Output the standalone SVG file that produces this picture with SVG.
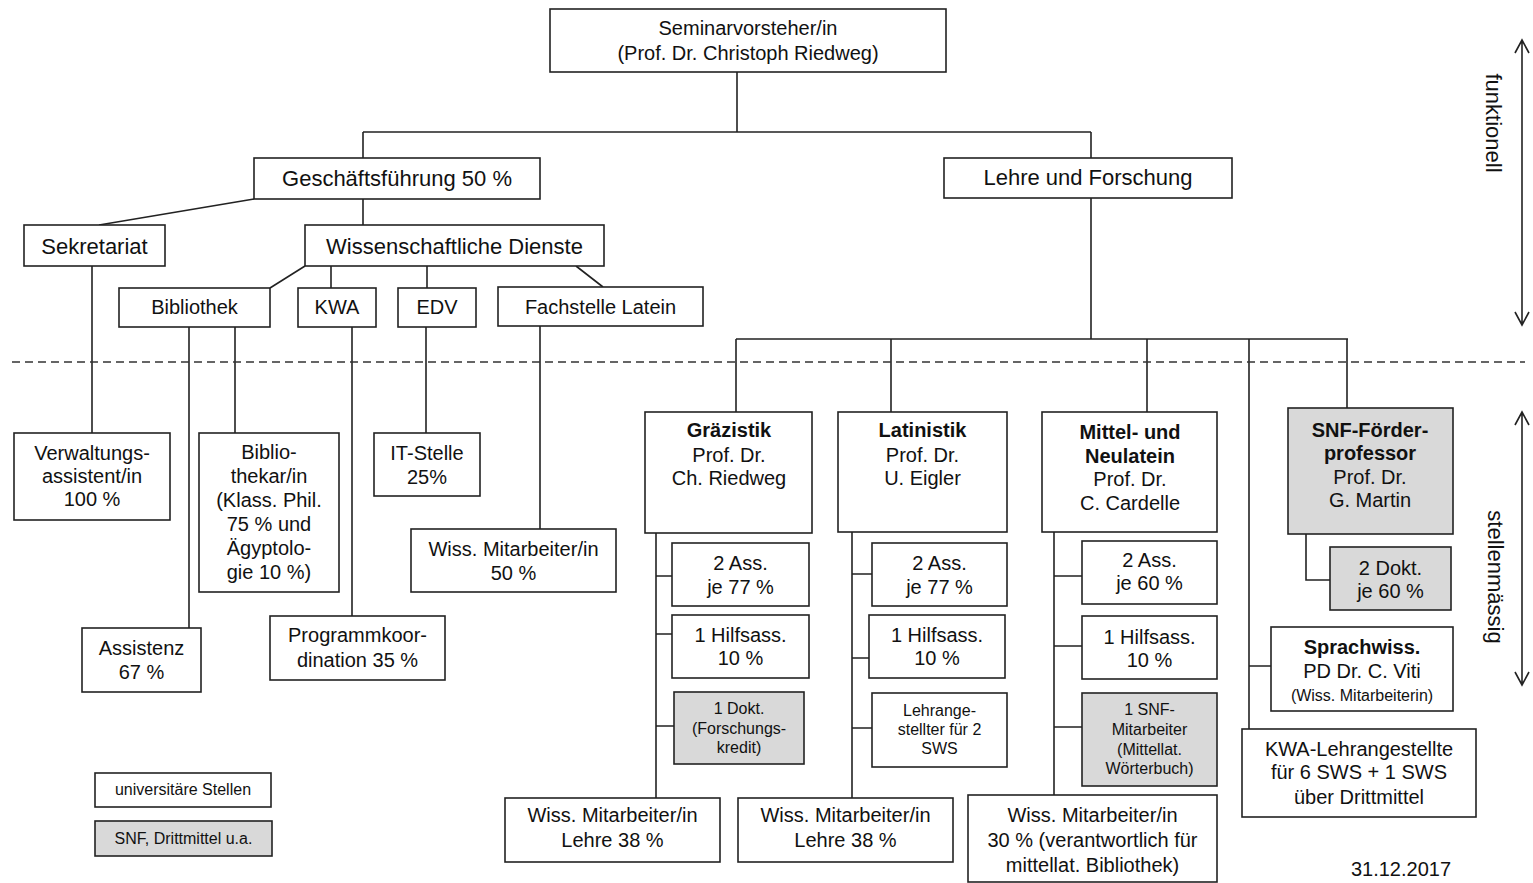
<svg xmlns="http://www.w3.org/2000/svg" width="1533" height="883" viewBox="0 0 1533 883">
<defs>
<style>
.bx{fill:#fff;stroke:#222;stroke-width:1.6}
.gr{fill:#d9d9d9;stroke:#222;stroke-width:1.6}
text{font-family:"Liberation Sans",Arial,sans-serif;fill:#111;text-anchor:middle}
.f22{font-size:22px}
.f20{font-size:20px}
.f16{font-size:16px}
.b{font-weight:bold}
.ln{fill:none;stroke:#222;stroke-width:1.6}
.dash{fill:none;stroke:#333;stroke-width:1.6;stroke-dasharray:8 5}
</style>
</defs>
<rect width="1533" height="883" fill="#fff"/>

<g id="connectors">
<path class="ln" d="M737 72V132M363 132H1091M363 132V158M1091 132V158"/>
<path class="ln" d="M254 199L99 225M363 199V225"/>
<path class="ln" d="M305 266L270 288M331 266V288M427 266V288M576 266L603 287"/>
<path class="ln" d="M92 266V433M189 327V628M235 327V433M352 327V616M426 327V433M540 326V529"/>
<path class="ln" d="M1091 198V339M736 339H1348M736 339V412M891 339V412M1147 339V412M1249 339V729M1347 339V408M1249 666H1271"/>
<path class="ln" d="M1306 534V580H1330"/>
<path class="ln" d="M656 533V798M656 576H672M656 634H672M656 726H674"/>
<path class="ln" d="M852 532V798M852 574H872M852 658H869M852 728H872"/>
<path class="ln" d="M1054 532V795M1054 576H1082M1054 646H1082M1054 727H1082"/>
</g>

<g id="divider">
<path class="dash" d="M12 362H1525"/>
</g>

<g id="arrow-funktionell">
<path class="ln" d="M1522 40V325M1515 53L1522 40L1529 53M1515 312L1522 325L1529 312"/>
<text class="f22" transform="translate(1486,123) rotate(90)">funktionell</text>
</g>
<g id="arrow-stellenmaessig">
<path class="ln" d="M1522 412V685M1515 425L1522 412L1529 425M1515 672L1522 685L1529 672"/>
<text class="f22" transform="translate(1488,577) rotate(90)">stellenmässig</text>
</g>

<g id="seminarvorsteher"><rect class="bx" x="550" y="9" width="396" height="63"/>
<text class="f20" x="748" y="35">Seminarvorsteher/in</text>
<text class="f20" x="748" y="60">(Prof. Dr. Christoph Riedweg)</text></g>

<g id="geschaeftsfuehrung"><rect class="bx" x="254" y="158" width="286" height="41"/>
<text class="f22" x="397" y="186">Geschäftsführung 50 %</text></g>

<g id="lehre-forschung"><rect class="bx" x="944" y="158" width="288" height="40"/>
<text class="f22" x="1088" y="185">Lehre und Forschung</text></g>

<g id="sekretariat"><rect class="bx" x="24" y="225" width="141" height="41"/>
<text class="f22" x="94.5" y="254">Sekretariat</text></g>

<g id="wiss-dienste"><rect class="bx" x="305" y="225" width="299" height="41"/>
<text class="f22" x="454.5" y="254">Wissenschaftliche Dienste</text></g>

<g id="bibliothek"><rect class="bx" x="119" y="288" width="151" height="39"/>
<text class="f20" x="194.5" y="314">Bibliothek</text></g>

<g id="kwa"><rect class="bx" x="298" y="288" width="78" height="39"/>
<text class="f20" x="337" y="314">KWA</text></g>

<g id="edv"><rect class="bx" x="398" y="288" width="78" height="39"/>
<text class="f20" x="437" y="314">EDV</text></g>

<g id="fachstelle-latein"><rect class="bx" x="498" y="287" width="205" height="39"/>
<text class="f20" x="600.5" y="314">Fachstelle Latein</text></g>

<g id="verwaltungsassistent"><rect class="bx" x="14" y="433" width="156" height="87"/>
<text class="f20" x="92" y="460">Verwaltungs-</text>
<text class="f20" x="92" y="483">assistent/in</text>
<text class="f20" x="92" y="506">100 %</text></g>

<g id="bibliothekar"><rect class="bx" x="199" y="433" width="140" height="159"/>
<text class="f20" x="269" y="459">Biblio-</text>
<text class="f20" x="269" y="483">thekar/in</text>
<text class="f20" x="269" y="507">(Klass. Phil.</text>
<text class="f20" x="269" y="531">75 % und</text>
<text class="f20" x="269" y="555">Ägyptolo-</text>
<text class="f20" x="269" y="579">gie 10 %)</text></g>

<g id="it-stelle"><rect class="bx" x="374" y="433" width="106" height="63"/>
<text class="f20" x="427" y="460">IT-Stelle</text>
<text class="f20" x="427" y="484">25%</text></g>

<g id="wiss-mitarbeiter-50"><rect class="bx" x="411" y="529" width="205" height="63"/>
<text class="f20" x="513.5" y="556">Wiss. Mitarbeiter/in</text>
<text class="f20" x="513.5" y="580">50 %</text></g>

<g id="assistenz"><rect class="bx" x="82" y="628" width="119" height="64"/>
<text class="f20" x="141.5" y="655">Assistenz</text>
<text class="f20" x="141.5" y="679">67 %</text></g>

<g id="programmkoordination"><rect class="bx" x="270" y="616" width="175" height="64"/>
<text class="f20" x="357.5" y="642">Programmkoor-</text>
<text class="f20" x="357.5" y="667">dination 35 %</text></g>

<g id="graezistik"><rect class="bx" x="645" y="412" width="167" height="121"/>
<text class="f20 b" x="729" y="437">Gräzistik</text>
<text class="f20" x="729" y="462">Prof. Dr.</text>
<text class="f20" x="729" y="485">Ch. Riedweg</text></g>

<g id="latinistik"><rect class="bx" x="838" y="412" width="169" height="120"/>
<text class="f20 b" x="922.5" y="437">Latinistik</text>
<text class="f20" x="922.5" y="462">Prof. Dr.</text>
<text class="f20" x="922.5" y="485">U. Eigler</text></g>

<g id="mittel-neulatein"><rect class="bx" x="1042" y="412" width="175" height="120"/>
<text class="f20 b" x="1130" y="439">Mittel- und</text>
<text class="f20 b" x="1130" y="463">Neulatein</text>
<text class="f20" x="1130" y="486">Prof. Dr.</text>
<text class="f20" x="1130" y="510">C. Cardelle</text></g>

<g id="snf-foerderprofessor"><rect class="gr" x="1288" y="408" width="165" height="126"/>
<text class="f20 b" x="1370" y="437">SNF-Förder-</text>
<text class="f20 b" x="1370" y="460">professor</text>
<text class="f20" x="1370" y="484">Prof. Dr.</text>
<text class="f20" x="1370" y="507">G. Martin</text></g>

<g id="g-ass"><rect class="bx" x="672" y="543" width="137" height="63"/>
<text class="f20" x="740.5" y="570">2 Ass.</text>
<text class="f20" x="740.5" y="594">je 77 %</text></g>

<g id="g-hilfsass"><rect class="bx" x="672" y="615" width="137" height="63"/>
<text class="f20" x="740.5" y="642">1 Hilfsass.</text>
<text class="f20" x="740.5" y="665">10 %</text></g>

<g id="g-dokt"><rect class="gr" x="674" y="692" width="130" height="72"/>
<text class="f16" x="739" y="714">1 Dokt.</text>
<text class="f16" x="739" y="734">(Forschungs-</text>
<text class="f16" x="739" y="753">kredit)</text></g>

<g id="l-ass"><rect class="bx" x="872" y="543" width="135" height="63"/>
<text class="f20" x="939.5" y="570">2 Ass.</text>
<text class="f20" x="939.5" y="594">je 77 %</text></g>

<g id="l-hilfsass"><rect class="bx" x="869" y="615" width="136" height="63"/>
<text class="f20" x="937" y="642">1 Hilfsass.</text>
<text class="f20" x="937" y="665">10 %</text></g>

<g id="l-lehrangestellter"><rect class="bx" x="872" y="693" width="135" height="74"/>
<text class="f16" x="939.5" y="716">Lehrange-</text>
<text class="f16" x="939.5" y="735">stellter für 2</text>
<text class="f16" x="939.5" y="754">SWS</text></g>

<g id="m-ass"><rect class="bx" x="1082" y="541" width="135" height="63"/>
<text class="f20" x="1149.5" y="567">2 Ass.</text>
<text class="f20" x="1149.5" y="590">je 60 %</text></g>

<g id="m-hilfsass"><rect class="bx" x="1082" y="616" width="135" height="63"/>
<text class="f20" x="1149.5" y="644">1 Hilfsass.</text>
<text class="f20" x="1149.5" y="667">10 %</text></g>

<g id="m-snf-mitarbeiter"><rect class="gr" x="1082" y="693" width="135" height="93"/>
<text class="f16" x="1149.5" y="715">1 SNF-</text>
<text class="f16" x="1149.5" y="735">Mitarbeiter</text>
<text class="f16" x="1149.5" y="755">(Mittellat.</text>
<text class="f16" x="1149.5" y="774">Wörterbuch)</text></g>

<g id="dokt2"><rect class="gr" x="1330" y="547" width="121" height="63"/>
<text class="f20" x="1390.5" y="575">2 Dokt.</text>
<text class="f20" x="1390.5" y="598">je 60 %</text></g>

<g id="sprachwiss"><rect class="bx" x="1271" y="627" width="182" height="84"/>
<text class="f20 b" x="1362" y="654">Sprachwiss.</text>
<text class="f20" x="1362" y="678">PD Dr. C. Viti</text>
<text class="f16" x="1362" y="701">(Wiss. Mitarbeiterin)</text></g>

<g id="kwa-lehrangestellte"><rect class="bx" x="1242" y="729" width="234" height="88"/>
<text class="f20" x="1359" y="756">KWA-Lehrangestellte</text>
<text class="f20" x="1359" y="779">für 6 SWS + 1 SWS</text>
<text class="f20" x="1359" y="804">über Drittmittel</text></g>

<g id="wm-graezistik"><rect class="bx" x="505" y="798" width="215" height="64"/>
<text class="f20" x="612.5" y="822">Wiss. Mitarbeiter/in</text>
<text class="f20" x="612.5" y="847">Lehre 38 %</text></g>

<g id="wm-latinistik"><rect class="bx" x="738" y="798" width="215" height="64"/>
<text class="f20" x="845.5" y="822">Wiss. Mitarbeiter/in</text>
<text class="f20" x="845.5" y="847">Lehre 38 %</text></g>

<g id="wm-mittellatein"><rect class="bx" x="968" y="795" width="249" height="87"/>
<text class="f20" x="1092.5" y="822">Wiss. Mitarbeiter/in</text>
<text class="f20" x="1092.5" y="847">30 % (verantwortlich für</text>
<text class="f20" x="1092.5" y="872">mittellat. Bibliothek)</text></g>

<g id="legend-uni"><rect class="bx" x="95" y="773" width="176" height="34"/>
<text class="f16" x="183" y="795">universitäre Stellen</text></g>

<g id="legend-snf"><rect class="gr" x="95" y="821" width="177" height="35"/>
<text class="f16" x="183.5" y="844">SNF, Drittmittel u.a.</text></g>

<g id="date"><text class="f20" x="1401" y="876">31.12.2017</text></g>
</svg>
